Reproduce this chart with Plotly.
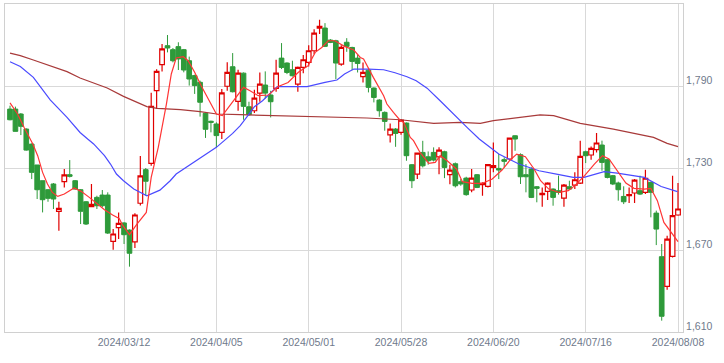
import pandas as pd
import plotly.graph_objects as go

# trading days (categories)
holidays = ["2024-02-12", "2024-02-23", "2024-03-20", "2024-04-29",
            "2024-05-03", "2024-05-06", "2024-07-15"]
days = [d for d in pd.bdate_range("2024-02-08", "2024-08-08").strftime("%Y-%m-%d")
        if d not in holidays]

tick_dates = ["2024-03-12", "2024-04-05", "2024-05-01", "2024-05-28",
              "2024-06-20", "2024-07-16", "2024-08-08"]
tick_labels = [d.replace("-", "/") for d in tick_dates]

open_ = [1773.1, 1773.1, 1769.5, 1758.5, 1747.5, 1732.2, 1720.7, 1714.1, 1718.3, 1698.3,
         1720.0, 1725.1, 1720.7, 1714.1, 1705.3, 1701.7, 1708.5, 1710.2, 1710.2, 1676.3,
         1686.3, 1689.8, 1684.6, 1675.9, 1704.2, 1728.8, 1733.4, 1786.6, 1805.6, 1819.5,
         1816.6, 1818.8, 1816.6, 1808.5, 1797.6, 1792.7, 1770.0, 1764.2, 1762.2, 1756.1,
         1789.8, 1804.1, 1778.7, 1799.4, 1774.8, 1771.9, 1784.8, 1790.7, 1783.4, 1788.2,
         1810.4, 1806.8, 1801.9, 1791.4, 1803.6, 1807.3, 1815.8, 1832.4, 1832.4, 1823.6,
         1823.1, 1806.0, 1822.0, 1818.2, 1810.4, 1796.8, 1801.6, 1788.5, 1779.7, 1770.7,
         1754.3, 1758.5, 1756.0, 1762.9, 1732.4, 1725.5, 1741.4, 1738.2, 1741.4, 1738.2,
         1741.9, 1725.1, 1733.1, 1720.0, 1722.6, 1713.9, 1725.1, 1717.8, 1716.5, 1730.5,
         1729.7, 1736.1, 1736.6, 1753.6, 1739.7, 1725.1, 1729.2, 1716.3, 1710.5, 1712.9,
         1714.6, 1713.4, 1708.0, 1716.3, 1717.5, 1719.0, 1741.9, 1739.5, 1743.4, 1746.8,
         1736.1, 1724.4, 1719.0, 1709.2, 1709.7, 1711.7, 1713.4, 1712.2, 1719.5, 1697.0,
         1665.1, 1643.4, 1665.3, 1695.6]
high = [1775.6, 1774.9, 1770.2, 1759.0, 1748.0, 1732.2, 1720.7, 1714.6, 1719.0, 1705.3,
        1729.2, 1735.8, 1721.2, 1714.6, 1705.8, 1718.3, 1709.7, 1713.9, 1712.2, 1685.3,
        1697.5, 1690.3, 1685.1, 1696.9, 1738.8, 1730.0, 1785.1, 1802.2, 1820.7, 1827.3,
        1817.8, 1822.0, 1817.1, 1811.5, 1798.3, 1793.9, 1770.7, 1764.6, 1763.4, 1787.8,
        1807.3, 1814.1, 1801.9, 1799.9, 1778.5, 1787.3, 1799.9, 1800.7, 1786.5, 1809.2,
        1821.4, 1807.3, 1808.5, 1804.3, 1812.6, 1819.9, 1831.6, 1838.5, 1836.0, 1824.3,
        1823.8, 1819.9, 1825.0, 1818.7, 1813.3, 1807.2, 1802.4, 1789.0, 1780.4, 1771.4,
        1762.6, 1759.2, 1765.8, 1763.3, 1732.9, 1741.4, 1749.9, 1742.1, 1745.1, 1745.1,
        1742.6, 1732.4, 1734.0, 1721.9, 1723.6, 1729.2, 1725.6, 1719.5, 1732.9, 1748.7,
        1740.2, 1737.8, 1752.4, 1753.9, 1740.7, 1732.9, 1730.5, 1716.8, 1715.8, 1719.5,
        1715.1, 1724.4, 1718.3, 1720.7, 1726.8, 1750.0, 1742.7, 1745.8, 1755.6, 1750.0,
        1736.6, 1724.9, 1720.0, 1716.6, 1715.8, 1722.0, 1724.4, 1728.8, 1720.0, 1698.8,
        1674.4, 1680.5, 1724.4, 1719.0]
low = [1764.9, 1756.8, 1754.1, 1742.7, 1721.9, 1707.3, 1697.5, 1705.3, 1700.0, 1684.1,
       1715.8, 1723.1, 1714.1, 1689.0, 1688.3, 1701.2, 1700.0, 1701.2, 1681.7, 1670.2,
       1678.0, 1674.4, 1657.8, 1671.5, 1702.5, 1709.8, 1731.7, 1773.2, 1800.7, 1814.6,
       1807.3, 1801.7, 1800.0, 1790.3, 1784.2, 1767.6, 1752.0, 1756.1, 1745.1, 1751.2,
       1786.6, 1785.3, 1771.9, 1765.3, 1768.2, 1770.2, 1778.5, 1780.9, 1767.0, 1785.8,
       1802.4, 1798.7, 1797.0, 1785.8, 1799.4, 1804.3, 1813.4, 1828.0, 1818.5, 1821.4,
       1795.0, 1804.8, 1815.0, 1801.6, 1799.9, 1792.6, 1785.3, 1778.0, 1767.5, 1757.3,
       1748.7, 1745.5, 1754.3, 1735.3, 1715.3, 1721.9, 1730.4, 1732.4, 1734.8, 1725.5,
       1722.6, 1718.2, 1715.8, 1717.0, 1709.7, 1712.2, 1715.3, 1709.7, 1715.8, 1726.8,
       1721.9, 1730.5, 1735.3, 1742.6, 1718.3, 1712.2, 1708.0, 1704.9, 1701.7, 1706.6,
       1702.4, 1710.5, 1701.7, 1714.1, 1714.6, 1718.3, 1733.6, 1736.1, 1741.4, 1728.0,
       1722.4, 1717.5, 1706.1, 1703.6, 1704.4, 1704.4, 1710.2, 1710.9, 1693.9, 1673.6,
       1618.3, 1641.0, 1664.6, 1695.1]
close = [1765.3, 1756.8, 1760.5, 1743.1, 1726.8, 1714.1, 1706.8, 1707.8, 1707.3, 1700.5,
         1724.9, 1723.9, 1714.6, 1698.3, 1689.0, 1703.4, 1702.4, 1702.4, 1682.4, 1681.7,
         1689.5, 1681.2, 1667.6, 1695.6, 1724.2, 1720.3, 1775.1, 1800.7, 1817.1, 1817.8,
         1808.5, 1809.8, 1801.7, 1795.1, 1790.3, 1778.1, 1758.3, 1763.4, 1753.7, 1784.9,
         1800.0, 1785.8, 1799.4, 1775.1, 1769.0, 1781.2, 1791.4, 1784.8, 1778.5, 1799.4,
         1803.6, 1799.9, 1797.5, 1803.6, 1809.2, 1815.8, 1828.7, 1833.6, 1819.0, 1821.9,
         1806.8, 1818.2, 1819.0, 1808.0, 1806.5, 1799.9, 1789.0, 1781.6, 1771.9, 1764.1,
         1758.5, 1755.3, 1765.1, 1739.0, 1720.7, 1740.9, 1731.6, 1735.3, 1735.8, 1743.1,
         1730.4, 1728.5, 1717.0, 1718.3, 1710.5, 1722.6, 1715.8, 1718.7, 1732.4, 1731.7,
         1728.5, 1734.9, 1751.9, 1751.2, 1723.6, 1723.6, 1708.5, 1715.1, 1711.4, 1719.0,
         1708.5, 1712.2, 1717.5, 1714.6, 1721.4, 1738.5, 1739.0, 1744.4, 1748.3, 1734.1,
         1723.1, 1718.3, 1714.1, 1705.3, 1710.5, 1721.2, 1710.9, 1722.5, 1712.2, 1685.3,
         1621.5, 1678.0, 1695.1, 1700.0]

# moving averages (position in trading days, value)
ma5_pos = [0, 1.4, 2.6, 4.2, 5.1, 6, 6.9, 7.8, 8.8, 10, 11.8, 13.1, 14.6, 16.1, 17.4, 18.9,
           20.1, 20.8, 22, 23.3, 25.1, 26, 27.3, 28.8, 29.7, 30.6, 31.9, 32.8, 34, 35.2,
           36.5, 38, 39.1, 41, 41.4, 43, 44.2, 45.7, 47.6, 49.4, 51.2, 53.1, 54.9, 56.2,
           57.4, 58.6, 59.8, 61.6, 63.3, 64.5, 65.1, 66.3, 66.9, 68.8, 69.4, 70.6, 71.9,
           72.5, 73.7, 74.3, 75.5, 77.1, 78.3, 79.2, 80.5, 82.2, 83.3, 85.1, 86.9, 88.8,
           90.6, 92.1, 93.3, 94.9, 96.5, 97.7, 99.2, 101.1, 102.8, 104, 105.8, 107.6, 109.1,
           110.3, 111.8, 113.4, 114.9, 116.8, 118, 119.2, 120.4, 121.7, 123]
ma5_val = [1777.6, 1769.5, 1759.7, 1747.6, 1739.0, 1726.8, 1718.3, 1712.1, 1709.2, 1711.0,
           1715.4, 1712.9, 1708.5, 1703.7, 1699.5, 1695.6, 1693.1, 1687.8, 1681.2, 1688.5,
           1697.5, 1723.1, 1745.1, 1776.8, 1798.8, 1810.5, 1811.4, 1808.5, 1800.0, 1790.2,
           1780.5, 1769.5, 1768.3, 1778.0, 1780.5, 1789.0, 1786.6, 1782.9, 1783.4, 1789.7,
           1792.6, 1800.0, 1804.9, 1814.6, 1818.2, 1823.1, 1823.1, 1819.0, 1816.3, 1810.9,
           1809.8, 1800.0, 1796.3, 1782.9, 1776.8, 1770.7, 1764.6, 1763.4, 1752.4, 1750.0,
           1741.4, 1733.4, 1734.1, 1739.0, 1735.3, 1729.3, 1720.0, 1718.7, 1718.7, 1722.0,
           1728.5, 1735.9, 1740.2, 1738.3, 1729.3, 1720.7, 1714.6, 1712.1, 1713.4, 1717.1,
           1724.4, 1732.9, 1739.0, 1736.6, 1728.0, 1719.0, 1715.1, 1714.6, 1715.1, 1706.1,
           1690.2, 1682.9, 1676.1]

ma25_pos = [0, 1.9, 4.3, 6.9, 7.4, 10.5, 12.9, 14.3, 15.4, 17.4, 18.5, 19.6, 20.9, 22.8,
            25.2, 27.6, 29.5, 30.6, 34.3, 38, 41, 42.4, 43.9, 45, 46.5, 49.2, 52, 54.7, 58,
            60.2, 61.6, 63.3, 66, 68.8, 70.9, 73.1, 74.8, 76.8, 79.2, 82.2, 84.2, 86.4, 90,
            93.7, 97.4, 101.1, 103.7, 105.7, 109.4, 111.8, 114.2, 116.8, 119.9, 122.9]
ma25_val = [1807.8, 1804.3, 1796.3, 1782.9, 1779.8, 1767.0, 1756.0, 1751.2, 1747.6, 1739.0,
            1732.9, 1725.6, 1720.7, 1714.6, 1709.7, 1713.8, 1720.7, 1725.6, 1735.3, 1745.1,
            1755.3, 1761.0, 1768.8, 1774.9, 1779.2, 1789.5, 1789.5, 1789.5, 1792.6, 1794.4,
            1798.8, 1802.4, 1802.3, 1801.9, 1799.7, 1796.8, 1793.9, 1788.4, 1779.2, 1767.0,
            1759.5, 1751.2, 1740.2, 1732.9, 1728.0, 1725.1, 1723.1, 1723.1, 1727.3, 1726.3,
            1724.7, 1723.1, 1716.5, 1712.7]

ma75_pos = [0, 1.9, 4.3, 7.4, 10.5, 12.9, 15.4, 17.9, 20.9, 23.4, 25.2, 27.1, 31.4, 35,
            38.1, 42.4, 48.5, 54.7, 60.8, 65.7, 71.9, 78, 82.9, 86.6, 89, 93.9, 97.6, 100.1,
            105, 111.1, 116.1, 118.5, 121, 123]
ma75_val = [1814.1, 1812.2, 1809.0, 1804.8, 1800.5, 1795.9, 1792.2, 1788.5, 1782.4, 1778.0,
            1774.9, 1773.6, 1772.7, 1771.2, 1769.5, 1769.0, 1768.5, 1768.0, 1767.5, 1766.6,
            1765.3, 1762.6, 1763.4, 1762.6, 1764.6, 1767.0, 1768.8, 1768.3, 1762.6, 1758.5,
            1754.4, 1752.4, 1748.0, 1745.6]

y_ticks = [1610, 1670, 1730, 1790]

idx = list(range(len(days)))
tick_pos = [days.index(d) for d in tick_dates]

fig = go.Figure()
fig.add_trace(go.Scatter(x=ma75_pos, y=ma75_val, mode="lines",
                         line=dict(color="#a83a3a", width=1.2), hoverinfo="skip"))
fig.add_trace(go.Scatter(x=ma25_pos, y=ma25_val, mode="lines",
                         line=dict(color="#4a4aff", width=1.2), hoverinfo="skip"))
fig.add_trace(go.Candlestick(
    x=idx, open=open_, high=high, low=low, close=close,
    increasing=dict(line=dict(color="#e00000", width=1.2), fillcolor="#ffffff"),
    decreasing=dict(line=dict(color="#2e9a3a", width=1), fillcolor="#2e9a3a"),
    whiskerwidth=0, hovertext=days,
))
fig.add_trace(go.Scatter(x=ma5_pos, y=ma5_val, mode="lines",
                         line=dict(color="#ff3535", width=1.2), hoverinfo="skip"))

axis_font = dict(family="Liberation Sans, Arial, sans-serif", size=10.5, color="#6f7a8c")
fig.update_layout(
    width=724, height=363,
    margin=dict(l=5, r=41, t=4, b=31),
    paper_bgcolor="white", plot_bgcolor="white",
    showlegend=False,
    boxgap=0.1, boxgroupgap=0.05,
    xaxis=dict(range=[-0.92, 123.92], tickvals=tick_pos, ticktext=tick_labels,
               showgrid=True, gridcolor="#d9d9d9", gridwidth=1, zeroline=False,
               showline=True, linecolor="#d0d0d0", linewidth=1, mirror=True,
               ticks="", tickfont=axis_font, rangeslider=dict(visible=False)),
    yaxis=dict(range=[1610, 1850], side="right", tickvals=y_ticks, tickformat=",",
               showgrid=True, gridcolor="#d9d9d9", gridwidth=1, zeroline=False,
               showline=True, linecolor="#d0d0d0", linewidth=1, mirror=True,
               ticks="", tickfont=axis_font, ticklabelshift=-6, ticklabelstandoff=0),
)
fig.write_html("out.html",
               config={"displayModeBar": False},
               post_script="document.body.style.margin='0';"
                           "document.body.style.overflow='hidden';")
